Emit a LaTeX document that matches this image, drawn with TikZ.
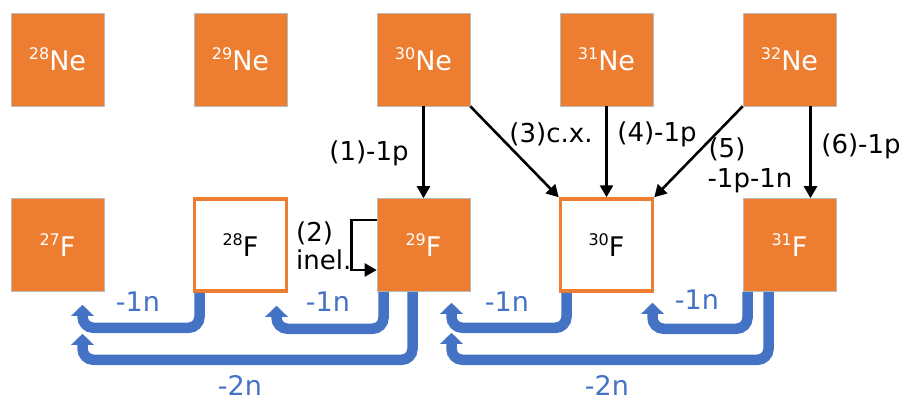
\documentclass[tikz,border=0pt]{standalone}
\usepackage{fontspec}
\setmainfont{DejaVu Sans}
\usetikzlibrary{arrows.meta}

\definecolor{nucorange}{HTML}{ED7D31}
\definecolor{lossblue}{HTML}{4472C4}

% isotope label: mass number as superscript
\newcommand{\nuc}[2]{\raisebox{10.5pt}{\fontsize{16}{16}\selectfont #1}#2}

\begin{document}
\begin{tikzpicture}[x=1pt, y=-1pt,
	nucbox/.style={fill=nucorange, draw=gray!55, line width=0.6pt, minimum size=93pt, inner sep=0pt, text=white, font=\fontsize{27}{27}\selectfont},
	openbox/.style={fill=white, draw=nucorange, line width=3.5pt, minimum size=92pt, inner sep=0pt, text=black, font=\fontsize{27}{27}\selectfont},
	react/.style={line width=2.6pt, -{Triangle[width=13pt,length=12pt]}},
	loss/.style={draw=lossblue, line width=10.5pt, rounded corners=11pt, -{Triangle[width=22pt,length=11pt]}},
	lbl/.style={font=\fontsize{26}{26}\selectfont, inner sep=0pt},
	losslbl/.style={text=lossblue, font=\fontsize{27}{27}\selectfont, inner sep=0pt}]

	\useasboundingbox (0,0) rectangle (905,401);

	% Grid dimensions
	\def\dx{183}
	\def\ytop{59.5}
	\def\ybot{245}

	% Ne row
	\node[nucbox] (Ne28) at (57.5, \ytop) {\nuc{28}{Ne}};
	\node[nucbox] (Ne29) at (57.5 + \dx, \ytop) {\nuc{29}{Ne}};
	\node[nucbox] (Ne30) at (57.5 + 2*\dx, \ytop) {\nuc{30}{Ne}};
	\node[nucbox] (Ne31) at (57.5 + 3*\dx, \ytop) {\nuc{31}{Ne}};
	\node[nucbox] (Ne32) at (57.5 + 4*\dx, \ytop) {\nuc{32}{Ne}};

	% F row
	\node[nucbox] (F27) at (57.5, \ybot) {\nuc{27}{F}};
	\node[openbox] (F28) at (57.5 + \dx, \ybot) {\nuc{28}{F}};
	\node[nucbox] (F29) at (57.5 + 2*\dx, \ybot) {\nuc{29}{F}};
	\node[openbox] (F30) at (57.5 + 3*\dx, \ybot) {\nuc{30}{F}};
	\node[nucbox] (F31) at (57.5 + 4*\dx, \ybot) {\nuc{31}{F}};

	% Reactions
	\draw[react] (Ne30.south) -- (F29.north);
	\draw[react] (Ne30.south east) -- (F30.north west);
	\draw[react] (Ne31.south) -- (F30.north);
	\draw[react] (Ne32.south west) -- (F30.north east);
	\draw[react] ([xshift=21pt]Ne32.south) -- ([xshift=21pt]F31.north);
	\draw[react] ([yshift=25pt]F29.west) -- ++(-25,0) |- ([yshift=-25pt]F29.west);

	\node[lbl] (r1) at (369, 153) {(1)-1p};
	\node[lbl, anchor=west] (r2) at (296, 233) {(2)};
	\node[lbl, anchor=west] (r2b) at (296, 260) {inel.};
	\node[lbl] (r3) at (551, 134) {(3)c.x.};
	\node[lbl] (r4) at (657, 134) {(4)-1p};
	\node[lbl] (r5) at (727, 149) {(5)};
	\node[lbl] (r5b) at (750, 181) {-1p-1n};
	\node[lbl] (r6) at (861, 146) {(6)-1p};

	% Neutron emission
	\draw[loss] ([xshift=-41pt]F28.south) |- ([xshift=25pt,yshift=-36pt]F27.south) -- ([xshift=25pt,yshift=-13pt]F27.south);
	\draw[loss] ([xshift=-40pt]F29.south) |- ([xshift=36pt,yshift=-36pt]F28.south) -- ([xshift=36pt,yshift=-13pt]F28.south);
	\draw[loss] ([xshift=-11pt]F29.south) |- ([xshift=25pt,yshift=-68pt]F27.south) -- ([xshift=25pt,yshift=-42pt]F27.south);
	\draw[loss] ([xshift=-40pt]F30.south) |- ([xshift=28pt,yshift=-36pt]F29.south) -- ([xshift=28pt,yshift=-11pt]F29.south);
	\draw[loss] ([xshift=-42pt]F31.south) |- ([xshift=46pt,yshift=-36pt]F30.south) -- ([xshift=46pt,yshift=-10pt]F30.south);
	\draw[loss] ([xshift=-21pt]F31.south) |- ([xshift=28pt,yshift=-68pt]F29.south) -- ([xshift=28pt,yshift=-41pt]F29.south);

	\node[losslbl] (n1) at (138, 302) {-1n};
	\node[losslbl] (n2) at (328, 302) {-1n};
	\node[losslbl] (n3) at (240, 385) {-2n};
	\node[losslbl] (n4) at (507, 302) {-1n};
	\node[losslbl] (n5) at (697, 300) {-1n};
	\node[losslbl] (n6) at (607, 385) {-2n};

\end{tikzpicture}
\end{document}
